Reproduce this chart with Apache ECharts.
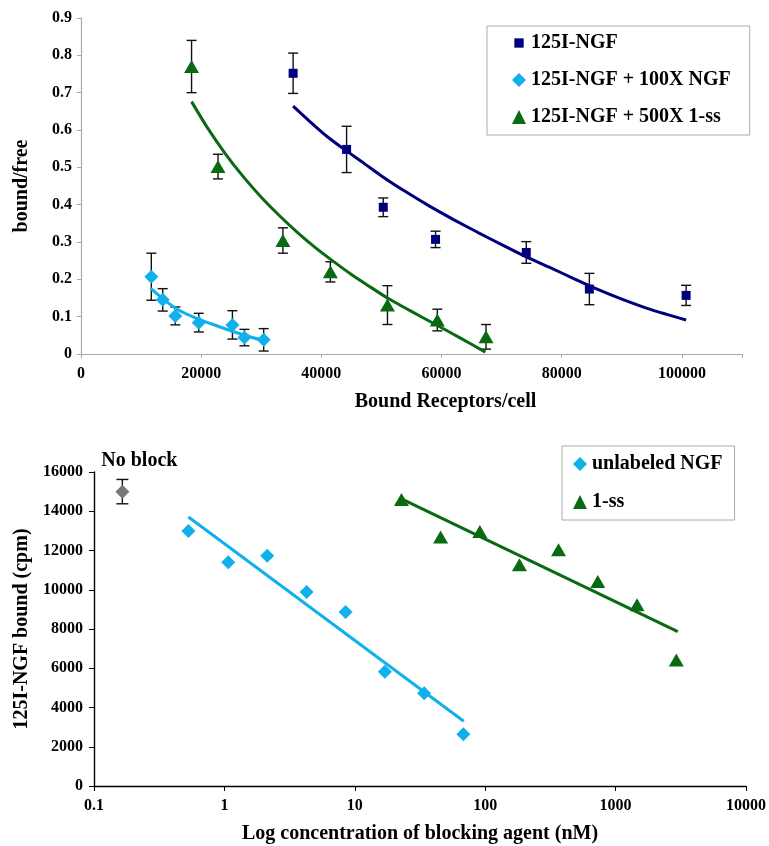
<!DOCTYPE html>
<html>
<head>
<meta charset="utf-8">
<title>NGF binding</title>
<script src="https://cdn.jsdelivr.net/npm/echarts@6.0.0/dist/echarts.min.js"></script>
<style>
  html, body { margin: 0; padding: 0; background: #fff; }
  #chart { width: 769px; height: 846px; }
</style>
</head>
<body>
<div id="chart"></div>
<script>
// ---- top panel: Scatchard plot ----
var ngfX = [35300, 44200, 50300, 59000, 74100, 84600, 100700]
var ngfY = [0.752, 0.548, 0.393, 0.307, 0.272, 0.174, 0.157]
var ngfErr = [0.054, 0.062, 0.025, 0.022, 0.029, 0.042, 0.027]

var coldX = [11700, 13600, 15700, 19600, 25200, 27200, 30400]
var coldY = [0.207, 0.145, 0.102, 0.084, 0.078, 0.044, 0.038]
var coldErr = [0.063, 0.030, 0.024, 0.025, 0.038, 0.022, 0.030]

var ssX = [18400, 22800, 33600, 41500, 51000, 59300, 67400]
var ssY = [0.770, 0.502, 0.304, 0.220, 0.131, 0.091, 0.046]
var ssErr = [0.070, 0.033, 0.034, 0.027, 0.052, 0.029, 0.033]

// fitted curves
var ngfFitX = [35300, 38000, 41000, 44000, 47000, 50000, 54000, 58000, 62000, 66000, 70000, 74000, 78000, 82000, 86000, 90000, 95000, 100700]
var ngfFitY = [0.664, 0.624, 0.582, 0.546, 0.512, 0.477, 0.435, 0.396, 0.360, 0.326, 0.293, 0.261, 0.232, 0.202, 0.173, 0.147, 0.118, 0.091]
var coldFitX = [11600, 13700, 16000, 19300, 22000, 24800, 27500, 30400]
var coldFitY = [0.176, 0.147, 0.120, 0.095, 0.079, 0.063, 0.049, 0.036]
var ssFitX = [18400, 21000, 24000, 27000, 30000, 33000, 36000, 39000, 42000, 45000, 48000, 51000, 55000, 59000, 63000, 67300]
var ssFitY = [0.676, 0.607, 0.537, 0.475, 0.420, 0.371, 0.326, 0.285, 0.248, 0.213, 0.181, 0.150, 0.114, 0.079, 0.044, 0.005]

// ---- bottom panel: competition ----
var coldConc = [0.53, 1.07, 2.13, 4.27, 8.5, 17, 34, 68]
var coldCpm = [13000, 11400, 11730, 9890, 8860, 5820, 4720, 2640]
var coldLineConc = [0.53, 68.5]
var coldLineCpm = [13710, 3300]

var ssConc = [22.8, 45.5, 91, 183, 365, 730, 1460, 2920]
var ssCpm = [14600, 12690, 12970, 11270, 12040, 10420, 9230, 6420]
var ssLineConc = [22.8, 3000]
var ssLineCpm = [14630, 7870]

var noBlockConc = [0.165]
var noBlockCpm = [15000]
var noBlockErr = [620]

var NAVY = '#00007f'
var CYAN = '#0fb0ec'
var GREEN = '#0a6a12'
var FONT = '"Liberation Serif", "Times New Roman", serif'
// small square centred in a 12x12 box (moveTo points set the bounds)
var SMALL_SQUARE = 'path://M0,0M12,12M2,2h8v8h-8z'

function zip (a, b, c) {
  var out = []
  for (var i = 0; i < a.length; i++) {
    out.push(c ? [a[i], b[i], c[i]] : [a[i], b[i]])
  }
  return out
}

function errorBars (cap) {
  return function (params, api) {
    var x = api.value(0)
    var y = api.value(1)
    var e = api.value(2)
    var hi = api.coord([x, y + e])
    var lo = api.coord([x, y - e])
    var st = { stroke: '#111', lineWidth: 1.4 }
    return {
      type: 'group',
      children: [
        { type: 'line', shape: { x1: hi[0], y1: hi[1], x2: lo[0], y2: lo[1] }, style: st },
        { type: 'line', shape: { x1: hi[0] - cap, y1: hi[1], x2: hi[0] + cap, y2: hi[1] }, style: st },
        { type: 'line', shape: { x1: lo[0] - cap, y1: lo[1], x2: lo[0] + cap, y2: lo[1] }, style: st }
      ]
    }
  }
}

function plain (v) {
  return v === 110000 ? '' : String(v)
}

var tickFont = { color: '#000', fontFamily: FONT, fontWeight: 'bold', fontSize: 16 }
var nameFont = { color: '#000', fontFamily: FONT, fontWeight: 'bold', fontSize: 20 }
var legendFont = { color: '#000', fontFamily: FONT, fontWeight: 'bold', fontSize: 20, lineHeight: 22 }

var option = {
  animation: false,
  backgroundColor: '#fff',
  grid: [
    { left: 81, right: 27, top: 18, height: 336 },
    { left: 94, right: 22, top: 472, height: 314 }
  ],
  legend: [
    {
      left: 487,
      top: 26,
      orient: 'vertical',
      padding: [6, 19, 7, 25],
      itemGap: 15,
      itemWidth: 14,
      itemHeight: 14,
      borderColor: '#aaa',
      borderWidth: 1,
      backgroundColor: '#fff',
      textStyle: legendFont,
      data: [
        { name: '125I-NGF', icon: SMALL_SQUARE },
        { name: '125I-NGF + 100X NGF', icon: 'diamond' },
        { name: '125I-NGF + 500X 1-ss', icon: 'triangle' }
      ]
    },
    {
      left: 562,
      top: 446,
      orient: 'vertical',
      padding: [7, 12, 7, 11],
      itemGap: 16,
      itemWidth: 14,
      itemHeight: 14,
      borderColor: '#aaa',
      borderWidth: 1,
      backgroundColor: '#fff',
      textStyle: legendFont,
      data: [
        { name: 'unlabeled NGF', icon: 'diamond' },
        { name: '1-ss', icon: 'triangle' }
      ]
    }
  ],
  xAxis: [
    {
      gridIndex: 0,
      type: 'value',
      min: 0,
      max: 110000,
      interval: 20000,
      name: 'Bound Receptors/cell',
      nameLocation: 'middle',
      nameGap: 38,
      nameTextStyle: Object.assign({ padding: [0, 0, 0, 68] }, nameFont),
      axisLine: { lineStyle: { color: '#a8a8a8', width: 1.2 } },
      axisTick: { show: true, length: 4, lineStyle: { color: '#a8a8a8' } },
      axisLabel: Object.assign({ margin: 12, formatter: plain }, tickFont),
      splitLine: { show: false }
    },
    {
      gridIndex: 1,
      type: 'log',
      logBase: 10,
      min: 0.1,
      max: 10000,
      name: 'Log concentration of blocking agent (nM)',
      nameLocation: 'middle',
      nameGap: 38,
      nameTextStyle: nameFont,
      axisLine: { lineStyle: { color: '#000', width: 1.4 } },
      axisTick: { show: true, length: 5, lineStyle: { color: '#000' } },
      minorTick: { show: false },
      axisLabel: Object.assign({ margin: 12, formatter: plain }, tickFont),
      splitLine: { show: false }
    }
  ],
  yAxis: [
    {
      gridIndex: 0,
      type: 'value',
      min: 0,
      max: 0.9,
      interval: 0.1,
      name: 'bound/free',
      nameLocation: 'middle',
      nameGap: 49,
      nameTextStyle: nameFont,
      axisLine: { show: true, lineStyle: { color: '#a8a8a8', width: 1.2 } },
      axisTick: { show: true, length: 4, lineStyle: { color: '#a8a8a8' } },
      axisLabel: Object.assign({ margin: 9 }, tickFont),
      splitLine: { show: false }
    },
    {
      gridIndex: 1,
      type: 'value',
      min: 0,
      max: 16000,
      interval: 2000,
      name: '125I-NGF bound (cpm)',
      nameLocation: 'middle',
      nameGap: 62,
      nameTextStyle: nameFont,
      axisLine: { show: true, lineStyle: { color: '#000', width: 1.4 } },
      axisTick: { show: true, length: 5, lineStyle: { color: '#000' } },
      axisLabel: Object.assign({ margin: 11, formatter: plain }, tickFont),
      splitLine: { show: false }
    }
  ],
  series: [
    // error bars first so markers sit on top
    { type: 'custom', xAxisIndex: 0, yAxisIndex: 0, z: 1, renderItem: errorBars(5), encode: { x: 0, y: 1 }, data: zip(ngfX, ngfY, ngfErr) },
    { type: 'custom', xAxisIndex: 0, yAxisIndex: 0, z: 1, renderItem: errorBars(5), encode: { x: 0, y: 1 }, data: zip(coldX, coldY, coldErr) },
    { type: 'custom', xAxisIndex: 0, yAxisIndex: 0, z: 1, renderItem: errorBars(5), encode: { x: 0, y: 1 }, data: zip(ssX, ssY, ssErr) },
    { type: 'custom', xAxisIndex: 1, yAxisIndex: 1, z: 1, renderItem: errorBars(6), encode: { x: 0, y: 1 }, data: zip(noBlockConc, noBlockCpm, noBlockErr) },

    // fitted curves
    { type: 'line', xAxisIndex: 0, yAxisIndex: 0, z: 2, smooth: 0.2, showSymbol: false, lineStyle: { color: NAVY, width: 3 }, data: zip(ngfFitX, ngfFitY) },
    { type: 'line', xAxisIndex: 0, yAxisIndex: 0, z: 2, smooth: 0.2, showSymbol: false, lineStyle: { color: CYAN, width: 3 }, data: zip(coldFitX, coldFitY) },
    { type: 'line', xAxisIndex: 0, yAxisIndex: 0, z: 2, smooth: 0.2, showSymbol: false, lineStyle: { color: GREEN, width: 3 }, data: zip(ssFitX, ssFitY) },
    { type: 'line', xAxisIndex: 1, yAxisIndex: 1, z: 2, showSymbol: false, lineStyle: { color: CYAN, width: 3 }, data: zip(coldLineConc, coldLineCpm) },
    { type: 'line', xAxisIndex: 1, yAxisIndex: 1, z: 2, showSymbol: false, lineStyle: { color: GREEN, width: 3 }, data: zip(ssLineConc, ssLineCpm) },

    // markers
    { name: '125I-NGF', type: 'scatter', xAxisIndex: 0, yAxisIndex: 0, z: 3, symbol: 'rect', symbolSize: 9, itemStyle: { color: NAVY, opacity: 1 }, data: zip(ngfX, ngfY) },
    { name: '125I-NGF + 100X NGF', type: 'scatter', xAxisIndex: 0, yAxisIndex: 0, z: 3, symbol: 'diamond', symbolSize: [14, 14], itemStyle: { color: CYAN, opacity: 1 }, data: zip(coldX, coldY) },
    { name: '125I-NGF + 500X 1-ss', type: 'scatter', xAxisIndex: 0, yAxisIndex: 0, z: 3, symbol: 'triangle', symbolSize: [15, 13], itemStyle: { color: GREEN, opacity: 1 }, data: zip(ssX, ssY) },
    {
      type: 'scatter', xAxisIndex: 1, yAxisIndex: 1, z: 3, symbol: 'diamond', symbolSize: [14, 14],
      itemStyle: { color: '#777', opacity: 1 },
      label: { show: true, position: 'top', distance: 14, offset: [17, 0], formatter: 'No block', color: '#000', fontFamily: FONT, fontWeight: 'bold', fontSize: 20 },
      data: zip(noBlockConc, noBlockCpm)
    },
    { name: 'unlabeled NGF', type: 'scatter', xAxisIndex: 1, yAxisIndex: 1, z: 3, symbol: 'diamond', symbolSize: [14, 14], itemStyle: { color: CYAN, opacity: 1 }, data: zip(coldConc, coldCpm) },
    { name: '1-ss', type: 'scatter', xAxisIndex: 1, yAxisIndex: 1, z: 3, symbol: 'triangle', symbolSize: [15, 13], itemStyle: { color: GREEN, opacity: 1 }, data: zip(ssConc, ssCpm) }
  ]
}

var chart = echarts.init(document.getElementById('chart'), null, { renderer: 'canvas' })
chart.setOption(option)
</script>
</body>
</html>
